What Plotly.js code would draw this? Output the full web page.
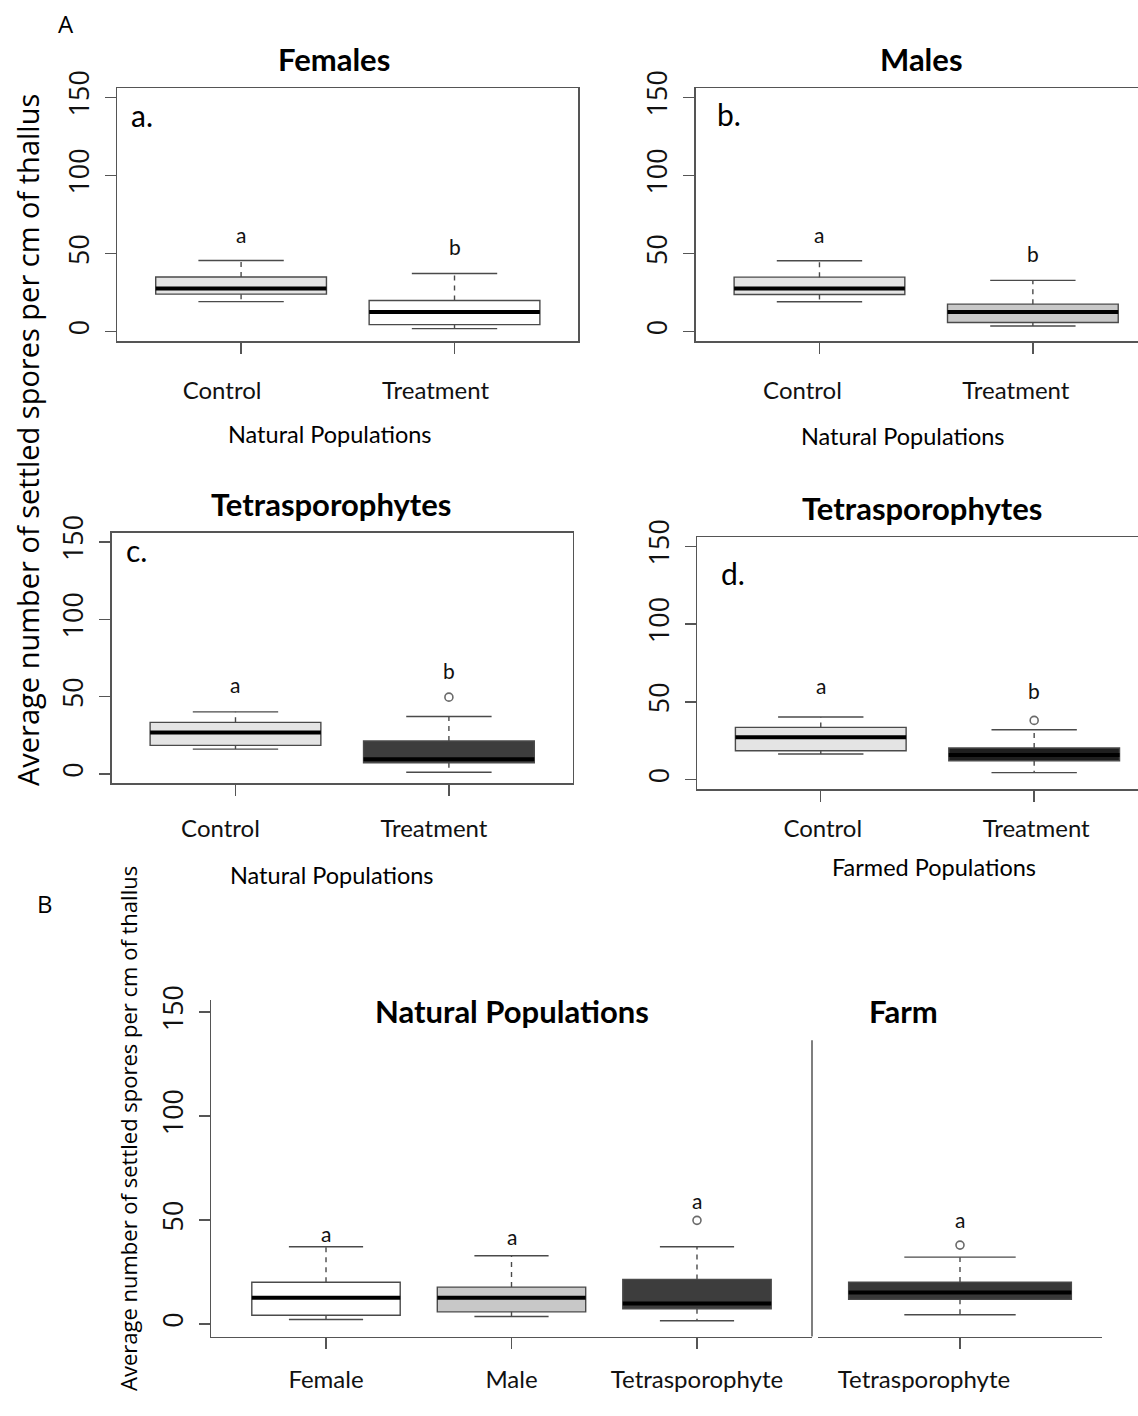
<!DOCTYPE html>
<html>
<head>
<meta charset="utf-8">
<script src="https://cdn.plot.ly/plotly-3.0.1.min.js"></script>
<style>html,body{margin:0;padding:0;background:#fff;}#chart{width:1138px;height:1416px;}</style>
</head>
<body>
<div id="chart"></div>
<script>
// ---------------- DATA ----------------
const catsCT = ['Control', 'Treatment'];
const catsNat = ['Female', 'Male', 'Tetrasporophyte'];
const catsFarm = ['Tetrasporophyte'];
const yTicks = [0, 50, 100, 150];

// a. Females, natural populations
const aQ1 = [24.0, 4.5], aMed = [27.6, 12.6], aQ3 = [35.0, 19.9], aLo = [19.2, 1.9], aHi = [45.5, 37.2];
const aOut = [[], []], aLetters = ['a', 'b'], aLetterY = [62.4, 54.5];
// b. Males, natural populations
const bQ1 = [23.8, 5.8], bMed = [27.6, 12.6], bQ3 = [34.9, 17.6], bLo = [19.1, 3.6], bHi = [45.4, 32.8];
const bOut = [[], []], bLetters = ['a', 'b'], bLetterY = [61.9, 50.1];
// c. Tetrasporophytes, natural populations
const cQ1 = [18.5, 7.3], cMed = [26.9, 9.5], cQ3 = [33.4, 21.3], cLo = [16.1, 1.1], cHi = [40.2, 37.2];
const cOut = [[], [49.7]], cLetters = ['a', 'b'], cLetterY = [57.9, 66.7];
// d. Tetrasporophytes, farmed populations
const dQ1 = [18.6, 12.2], dMed = [27.2, 15.9], dQ3 = [33.6, 20.4], dLo = [16.5, 4.5], dHi = [40.3, 32.1];
const dOut = [[], [38.1]], dLetters = ['a', 'b'], dLetterY = [60.4, 57.6];
// B. Natural populations (treatment)
const nQ1 = [4.3, 5.9, 7.4], nMed = [12.7, 12.7, 9.9], nQ3 = [20.1, 17.8, 21.5], nLo = [2.2, 3.7, 1.6], nHi = [37.2, 32.9, 37.2];
const nOut = [[], [], [49.9]], nLetters = ['a', 'a', 'a'], nLetterY = [43.6, 42.0, 59.4];
// B. Farm (treatment)
const fQ1 = [11.9], fMed = [15.2], fQ3 = [20.2], fLo = [4.5], fHi = [32.2];
const fOut = [[38.0]], fLetters = ['a'], fLetterY = [50.4];

// ---------------- STYLE ----------------
const W = 1138, H = 1416;
const px = v => v / W;
const py = v => 1 - v / H;
const LINE = '#4a4a4a';
const FRAME = '#555555';
const LATO = 'Lato, "Noto Sans", sans-serif';
const OPEN = '"Open Sans", "Noto Sans", sans-serif';
const fills = {
  a: ['#e4e4e4', '#ffffff'],
  b: ['#e4e4e4', '#c8c8c8'],
  c: ['#e4e4e4', '#3d3d3d'],
  d: ['#e4e4e4', '#1f1f1f'],
  n: ['#ffffff', '#c8c8c8', '#3d3d3d'],
  f: ['#383838']
};
const BOXW = 0.8, CAPW = 0.4;

const traces = [];
const annotations = [];

function addPanel(xa, ya, cats, q1, med, q3, lo, hi, outs, letters, letterY, fillArr) {
  const pos = cats.map((_, i) => i + 1);
  // boxes (quartiles)
  pos.forEach((p, i) => {
    traces.push({
      type: 'box', xaxis: xa, yaxis: ya,
      x: [p], q1: [q1[i]], median: [med[i]], q3: [q3[i]],
      lowerfence: [q1[i]], upperfence: [q3[i]],
      width: BOXW, whiskerwidth: 0, boxpoints: false,
      fillcolor: fillArr[i], line: {color: LINE, width: 1.4},
      hoverinfo: 'skip', showlegend: false
    });
  });
  // medians
  const mx = [], my = [];
  pos.forEach((p, i) => { mx.push(p - BOXW / 2, p + BOXW / 2, null); my.push(med[i], med[i], null); });
  traces.push({type: 'scatter', mode: 'lines', xaxis: xa, yaxis: ya, x: mx, y: my,
    line: {color: '#000', width: 4}, hoverinfo: 'skip', showlegend: false});
  // whiskers (dashed)
  const wx = [], wy = [];
  pos.forEach((p, i) => { wx.push(p, p, null, p, p, null); wy.push(q3[i], hi[i], null, q1[i], lo[i], null); });
  traces.push({type: 'scatter', mode: 'lines', xaxis: xa, yaxis: ya, x: wx, y: wy,
    line: {color: LINE, width: 1.4, dash: '5px,5px'}, hoverinfo: 'skip', showlegend: false});
  // staples
  const sx = [], sy = [];
  pos.forEach((p, i) => {
    sx.push(p - CAPW / 2, p + CAPW / 2, null, p - CAPW / 2, p + CAPW / 2, null);
    sy.push(hi[i], hi[i], null, lo[i], lo[i], null);
  });
  traces.push({type: 'scatter', mode: 'lines', xaxis: xa, yaxis: ya, x: sx, y: sy,
    line: {color: LINE, width: 1.4}, hoverinfo: 'skip', showlegend: false});
  // outliers
  const ox = [], oy = [];
  pos.forEach((p, i) => outs[i].forEach(v => { ox.push(p); oy.push(v); }));
  if (ox.length) {
    traces.push({type: 'scatter', mode: 'markers', xaxis: xa, yaxis: ya, x: ox, y: oy,
      marker: {symbol: 'circle-open', size: 8, color: '#6a6a6a', line: {width: 1.6, color: '#6a6a6a'}},
      hoverinfo: 'skip', showlegend: false});
  }
  // significance letters
  pos.forEach((p, i) => {
    annotations.push({xref: xa, yref: ya, x: p, y: letterY[i], text: letters[i], showarrow: false,
      xanchor: 'center', yanchor: 'middle', font: {family: LATO, size: 21, color: '#111'}});
  });
}

addPanel('x', 'y', catsCT, aQ1, aMed, aQ3, aLo, aHi, aOut, aLetters, aLetterY, fills.a);
addPanel('x2', 'y2', catsCT, bQ1, bMed, bQ3, bLo, bHi, bOut, bLetters, bLetterY, fills.b);
addPanel('x3', 'y3', catsCT, cQ1, cMed, cQ3, cLo, cHi, cOut, cLetters, cLetterY, fills.c);
addPanel('x4', 'y4', catsCT, dQ1, dMed, dQ3, dLo, dHi, dOut, dLetters, dLetterY, fills.d);
addPanel('x5', 'y5', catsNat, nQ1, nMed, nQ3, nLo, nHi, nOut, nLetters, nLetterY, fills.n);
addPanel('x6', 'y5', catsFarm, fQ1, fMed, fQ3, fLo, fHi, fOut, fLetters, fLetterY, fills.f);

// ---------------- AXES ----------------
function xAxis(d0, d1, range, anchor, cats, mirror, shift, standoff) {
  return {
    domain: [px(d0), px(d1)], range: range, anchor: anchor,
    showline: true, linecolor: FRAME, linewidth: 1.5, mirror: mirror,
    ticks: 'outside', ticklen: 11, tickwidth: 1.4, tickcolor: FRAME,
    tickvals: cats.map((_, i) => i + 1), ticktext: cats,
    tickfont: {family: LATO, size: 24, color: '#111'},
    ticklabelshift: shift, ticklabelstandoff: standoff,
    showgrid: false, zeroline: false, fixedrange: true
  };
}
function yAxis(top, bottom, anchor, mirror, show) {
  return {
    domain: [py(bottom), py(top)], range: [-6, 156], anchor: anchor,
    showline: show, linecolor: FRAME, linewidth: 1.5, mirror: mirror,
    ticks: show ? 'outside' : '', ticklen: 11, tickwidth: 1.4, tickcolor: FRAME,
    tickvals: yTicks, ticktext: yTicks.map(String), showticklabels: show,
    tickangle: -90, tickfont: {family: OPEN, size: 27, color: '#111'},
    ticklabelstandoff: 5,
    showgrid: false, zeroline: false, fixedrange: true
  };
}

const layout = {
  width: W, height: H,
  margin: {l: 0, r: 0, t: 0, b: 0},
  paper_bgcolor: '#fff', plot_bgcolor: 'rgba(0,0,0,0)',
  showlegend: false,
  xaxis: xAxis(117.3, 578.3, [0.42, 2.58], 'y', catsCT, true, -19, 17),
  yaxis: yAxis(88, 341, 'x', true, true),
  xaxis2: xAxis(695.7, 1138, [0.42, 0.42 + (1138 - 695.7) / 213.4], 'y2', catsCT, true, -17, 17),
  yaxis2: yAxis(88, 341, 'x2', false, true),
  xaxis3: xAxis(111.7, 572.7, [0.42, 2.58], 'y3', catsCT, true, -15, 12),
  yaxis3: yAxis(532.7, 783.3, 'x3', true, true),
  xaxis4: xAxis(697, 1138, [0.42, 0.42 + (1138 - 697) / 213.4], 'y4', catsCT, true, 2, 7),
  yaxis4: yAxis(537, 789, 'x4', false, true),
  xaxis5: xAxis(211, 812, [0.38, 3.62], 'y5', catsNat, false, 0, 10),
  yaxis5: yAxis(999.7, 1336.6, 'x5', false, true),
  xaxis6: xAxis(818, 1102, [0.49, 1.51], 'y5', catsFarm, false, -36, 10),
  annotations: annotations,
  shapes: [
    // separator between natural and farm groups
    {type: 'line', xref: 'x5 domain', yref: 'y5 domain', x0: 1, x1: 1, y0: 0, y1: 0.88,
     line: {color: FRAME, width: 1.5}}
  ]
};

const txt = (x, y, text, size, family, extra) => Object.assign({
  xref: 'paper', yref: 'paper', x: px(x), y: py(y), text: text, showarrow: false,
  xanchor: 'center', yanchor: 'middle', font: {family: family, size: size, color: '#000'}
}, extra || {});

annotations.push(
  txt(66, 24, 'A', 24, OPEN),
  txt(45, 903, 'B', 24, OPEN),
  txt(334, 59, '<b>Females</b>', 31, LATO),
  txt(921, 59, '<b>Males</b>', 31, LATO),
  txt(331, 504, '<b>Tetrasporophytes</b>', 31, LATO),
  txt(922, 508, '<b>Tetrasporophytes</b>', 31, LATO),
  txt(512, 1011, '<b>Natural Populations</b>', 31, LATO),
  txt(903, 1011, '<b>Farm</b>', 31, LATO),
  txt(142, 115, 'a.', 30, LATO),
  txt(729, 114, 'b.', 30, LATO),
  txt(136, 550, 'c.', 30, LATO),
  txt(733, 573, 'd.', 30, LATO),
  txt(330, 434, 'Natural Populations', 23.5, LATO),
  txt(903, 436, 'Natural Populations', 23.5, LATO),
  txt(332, 875, 'Natural Populations', 23.5, LATO),
  txt(934, 867, 'Farmed Populations', 23.5, LATO),
  txt(27, 440, 'Average number of settled spores per cm of thallus', 29, OPEN, {textangle: -90}),
  txt(128, 1129, 'Average number of settled spores per cm of thallus', 22, OPEN, {textangle: -90})
);

Plotly.newPlot('chart', traces, layout, {displayModeBar: false, staticPlot: true});
</script>
</body>
</html>
